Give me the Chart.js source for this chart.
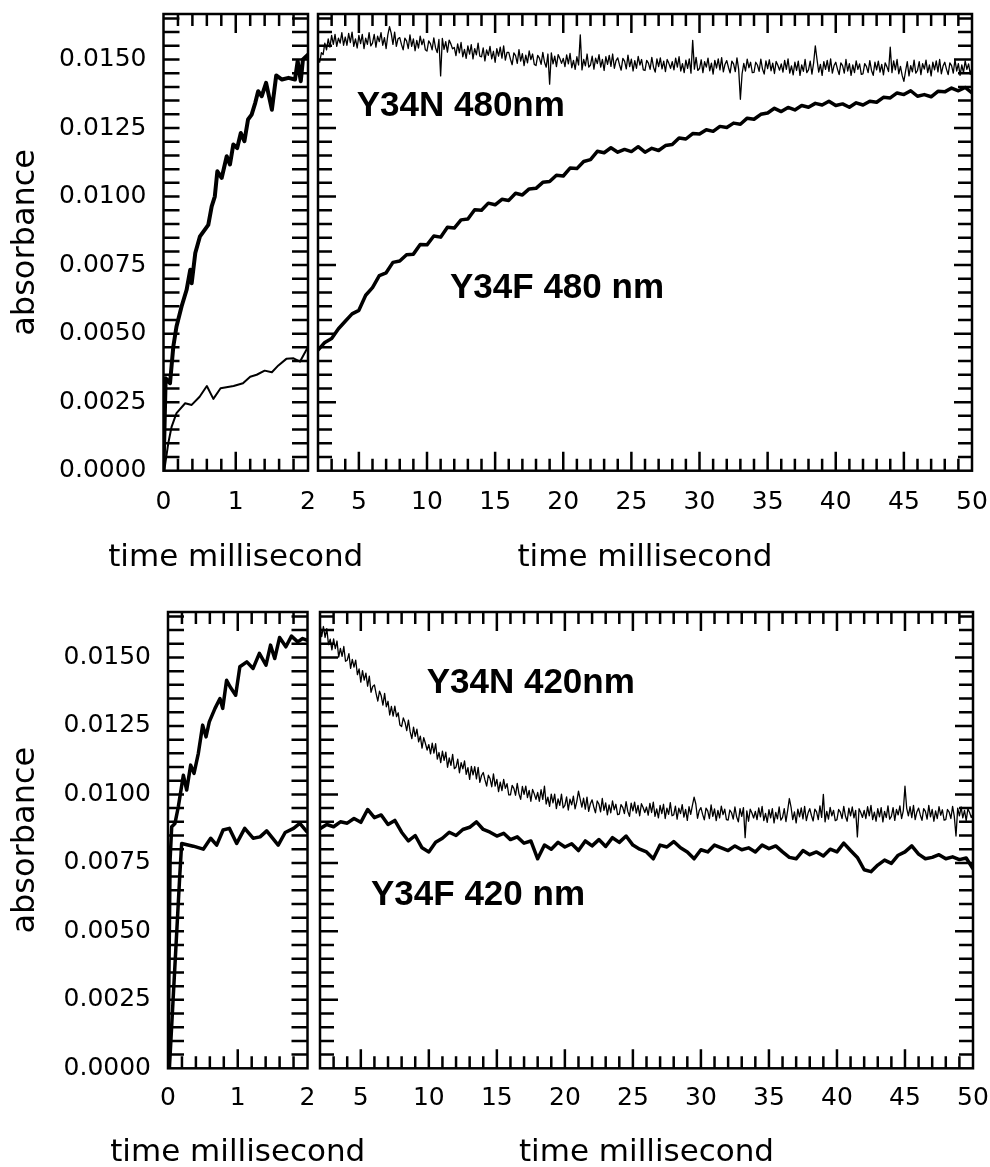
<!DOCTYPE html>
<html lang="en">
<head>
<meta charset="utf-8">
<title>absorbance Y34N / Y34F</title>
<script src="https://cdn.jsdelivr.net/npm/chart.js@4.4.1/dist/chart.umd.min.js"></script>
<style>
  html, body { margin: 0; background: #fff; }
  body { position: relative; width: 990px; height: 1167px; overflow: hidden; }
  canvas { position: absolute; }
</style>
</head>
<body>
<canvas id="c-tl" width="380" height="580" style="left:0;top:0"></canvas>
<canvas id="c-tr" width="710" height="580" style="left:300px;top:0"></canvas>
<canvas id="c-bl" width="380" height="587" style="left:0;top:580px"></canvas>
<canvas id="c-br" width="710" height="587" style="left:300px;top:580px"></canvas>
<script>
// Absorbance vs temps : rangée haute 480 nm, rangée basse 420 nm ; à gauche 0–2 ms, à droite 2–50 ms.

// --- axes ---
const yMax = 0.01666;
const yLabelTicks = [0, 0.0025, 0.005, 0.0075, 0.01, 0.0125, 0.015];
const xLabelsShort = [0, 1, 2];
const xLabelsLong = [5, 10, 15, 20, 25, 30, 35, 40, 45, 50];

// --- 0–2 ms, 480 nm ---
const tl480NT = [0, 0.03, 0.09, 0.136, 0.18, 0.25, 0.32, 0.37, 0.39, 0.44, 0.505, 0.62, 0.667, 0.71, 0.745, 0.805, 0.875, 0.92, 0.966, 1.02, 1.07, 1.12, 1.17, 1.22, 1.27, 1.31, 1.36, 1.42, 1.5, 1.56, 1.64, 1.73, 1.82, 1.857, 1.9, 1.93, 2.0];
const tl480NV = [0, 0.00337, 0.00319, 0.00453, 0.00526, 0.00599, 0.0066, 0.00733, 0.00684, 0.00794, 0.00855, 0.00897, 0.00964, 0.01, 0.01092, 0.01068, 0.01147, 0.01117, 0.0119, 0.01177, 0.01232, 0.01202, 0.01281, 0.01299, 0.01342, 0.01384, 0.01366, 0.01415, 0.01317, 0.01442, 0.01427, 0.01433, 0.01427, 0.01494, 0.01421, 0.015, 0.01518];
const tl480FT = [0.01, 0.066, 0.113, 0.18, 0.30, 0.39, 0.50, 0.60, 0.69, 0.79, 0.97, 1.10, 1.20, 1.29, 1.40, 1.50, 1.59, 1.70, 1.80, 1.89, 1.99];
const tl480FV = [0, 0.001, 0.00161, 0.0021, 0.00246, 0.0024, 0.0027, 0.00309, 0.00262, 0.00301, 0.00309, 0.00319, 0.00343, 0.0035, 0.00365, 0.00359, 0.00384, 0.00408, 0.0041, 0.00398, 0.00447];

// --- 0–2 ms, 420 nm ---
const bl420NT = [0, 0.03, 0.053, 0.10, 0.148, 0.22, 0.268, 0.325, 0.373, 0.435, 0.497, 0.545, 0.592, 0.674, 0.745, 0.784, 0.84, 0.89, 0.97, 1.03, 1.13, 1.22, 1.31, 1.405, 1.47, 1.53, 1.60, 1.69, 1.77, 1.86, 1.93, 1.99];
const bl420NV = [0, 0.0076, 0.00882, 0.00894, 0.00955, 0.0107, 0.01016, 0.01107, 0.01077, 0.0115, 0.01253, 0.0121, 0.01265, 0.01314, 0.0135, 0.01314, 0.01417, 0.01393, 0.01362, 0.01466, 0.01484, 0.0146, 0.01515, 0.01472, 0.01545, 0.01496, 0.01573, 0.01539, 0.01578, 0.01557, 0.01569, 0.01563];
const bl420FT = [0.02, 0.17, 0.196, 0.363, 0.506, 0.612, 0.698, 0.79, 0.88, 0.985, 1.10, 1.22, 1.32, 1.415, 1.58, 1.68, 1.80, 1.89, 1.99];
const bl420FV = [0, 0.0071, 0.00821, 0.00811, 0.008, 0.0084, 0.00815, 0.0087, 0.00876, 0.00821, 0.00876, 0.0084, 0.00845, 0.00867, 0.00815, 0.00861, 0.00876, 0.00894, 0.00864];

// --- 2–50 ms : grilles de temps ---
const tCoarse = [2, 2.5, 3, 3.5, 4, 4.5, 5, 5.5, 6, 6.5, 7, 7.5,
  8, 8.5, 9, 9.5, 10, 10.5, 11, 11.5, 12, 12.5, 13, 13.5,
  14, 14.5, 15, 15.5, 16, 16.5, 17, 17.5, 18, 18.5, 19, 19.5,
  20, 20.5, 21, 21.5, 22, 22.5, 23, 23.5, 24, 24.5, 25, 25.5,
  26, 26.5, 27, 27.5, 28, 28.5, 29, 29.5, 30, 30.5, 31, 31.5,
  32, 32.5, 33, 33.5, 34, 34.5, 35, 35.5, 36, 36.5, 37, 37.5,
  38, 38.5, 39, 39.5, 40, 40.5, 41, 41.5, 42, 42.5, 43, 43.5,
  44, 44.5, 45, 45.5, 46, 46.5, 47, 47.5, 48, 48.5, 49, 49.5,
  50];
const tFine = [2, 2.125, 2.25, 2.375, 2.5, 2.625, 2.75, 2.875, 3, 3.125, 3.25, 3.375, 3.5, 3.625, 3.75, 3.875,
  4, 4.125, 4.25, 4.375, 4.5, 4.625, 4.75, 4.875, 5, 5.125, 5.25, 5.375, 5.5, 5.625, 5.75, 5.875,
  6, 6.125, 6.25, 6.375, 6.5, 6.625, 6.75, 6.875, 7, 7.125, 7.25, 7.375, 7.5, 7.625, 7.75, 7.875,
  8, 8.125, 8.25, 8.375, 8.5, 8.625, 8.75, 8.875, 9, 9.125, 9.25, 9.375, 9.5, 9.625, 9.75, 9.875,
  10, 10.125, 10.25, 10.375, 10.5, 10.625, 10.75, 10.875, 11, 11.125, 11.25, 11.375, 11.5, 11.625, 11.75, 11.875,
  12, 12.125, 12.25, 12.375, 12.5, 12.625, 12.75, 12.875, 13, 13.125, 13.25, 13.375, 13.5, 13.625, 13.75, 13.875,
  14, 14.125, 14.25, 14.375, 14.5, 14.625, 14.75, 14.875, 15, 15.125, 15.25, 15.375, 15.5, 15.625, 15.75, 15.875,
  16, 16.125, 16.25, 16.375, 16.5, 16.625, 16.75, 16.875, 17, 17.125, 17.25, 17.375, 17.5, 17.625, 17.75, 17.875,
  18, 18.125, 18.25, 18.375, 18.5, 18.625, 18.75, 18.875, 19, 19.125, 19.25, 19.375, 19.5, 19.625, 19.75, 19.875,
  20, 20.125, 20.25, 20.375, 20.5, 20.625, 20.75, 20.875, 21, 21.125, 21.25, 21.375, 21.5, 21.625, 21.75, 21.875,
  22, 22.125, 22.25, 22.375, 22.5, 22.625, 22.75, 22.875, 23, 23.125, 23.25, 23.375, 23.5, 23.625, 23.75, 23.875,
  24, 24.125, 24.25, 24.375, 24.5, 24.625, 24.75, 24.875, 25, 25.125, 25.25, 25.375, 25.5, 25.625, 25.75, 25.875,
  26, 26.125, 26.25, 26.375, 26.5, 26.625, 26.75, 26.875, 27, 27.125, 27.25, 27.375, 27.5, 27.625, 27.75, 27.875,
  28, 28.125, 28.25, 28.375, 28.5, 28.625, 28.75, 28.875, 29, 29.125, 29.25, 29.375, 29.5, 29.625, 29.75, 29.875,
  30, 30.125, 30.25, 30.375, 30.5, 30.625, 30.75, 30.875, 31, 31.125, 31.25, 31.375, 31.5, 31.625, 31.75, 31.875,
  32, 32.125, 32.25, 32.375, 32.5, 32.625, 32.75, 32.875, 33, 33.125, 33.25, 33.375, 33.5, 33.625, 33.75, 33.875,
  34, 34.125, 34.25, 34.375, 34.5, 34.625, 34.75, 34.875, 35, 35.125, 35.25, 35.375, 35.5, 35.625, 35.75, 35.875,
  36, 36.125, 36.25, 36.375, 36.5, 36.625, 36.75, 36.875, 37, 37.125, 37.25, 37.375, 37.5, 37.625, 37.75, 37.875,
  38, 38.125, 38.25, 38.375, 38.5, 38.625, 38.75, 38.875, 39, 39.125, 39.25, 39.375, 39.5, 39.625, 39.75, 39.875,
  40, 40.125, 40.25, 40.375, 40.5, 40.625, 40.75, 40.875, 41, 41.125, 41.25, 41.375, 41.5, 41.625, 41.75, 41.875,
  42, 42.125, 42.25, 42.375, 42.5, 42.625, 42.75, 42.875, 43, 43.125, 43.25, 43.375, 43.5, 43.625, 43.75, 43.875,
  44, 44.125, 44.25, 44.375, 44.5, 44.625, 44.75, 44.875, 45, 45.125, 45.25, 45.375, 45.5, 45.625, 45.75, 45.875,
  46, 46.125, 46.25, 46.375, 46.5, 46.625, 46.75, 46.875, 47, 47.125, 47.25, 47.375, 47.5, 47.625, 47.75, 47.875,
  48, 48.125, 48.25, 48.375, 48.5, 48.625, 48.75, 48.875, 49, 49.125, 49.25, 49.375, 49.5, 49.625, 49.75, 49.875,
  50];

// --- 2–50 ms, 480 nm ---
const tr480N = [0.01500, 0.01490, 0.01525, 0.01518, 0.01560, 0.01535, 0.01575, 0.01545, 0.01588, 0.01555, 0.01592, 0.01548, 0.01578, 0.01560, 0.01598, 0.01552,
  0.01582, 0.01552, 0.01595, 0.01562, 0.01600, 0.01548, 0.01575, 0.01542, 0.01588, 0.01558, 0.01592, 0.01540, 0.01578, 0.01555, 0.01598, 0.01550,
  0.01560, 0.01592, 0.01545, 0.01585, 0.01565, 0.01598, 0.01552, 0.01580, 0.01540, 0.01590, 0.01620, 0.01595, 0.01555, 0.01600, 0.01548, 0.01576,
  0.01580, 0.01555, 0.01535, 0.01578, 0.01568, 0.01540, 0.01590, 0.01548, 0.01575, 0.01532, 0.01570, 0.01542, 0.01585, 0.01554, 0.01574, 0.01536,
  0.01531, 0.01568, 0.01558, 0.01535, 0.01579, 0.01543, 0.01525, 0.01573, 0.01440, 0.01577, 0.01537, 0.01565, 0.01527, 0.01571, 0.01557, 0.01539,
  0.01544, 0.01514, 0.01557, 0.01524, 0.01562, 0.01510, 0.01537, 0.01504, 0.01550, 0.01520, 0.01554, 0.01502, 0.01540, 0.01517, 0.01560, 0.01512,
  0.01510, 0.01542, 0.01495, 0.01535, 0.01515, 0.01548, 0.01502, 0.01530, 0.01490, 0.01540, 0.01512, 0.01545, 0.01505, 0.01550, 0.01498, 0.01526,
  0.01526, 0.01501, 0.01481, 0.01524, 0.01514, 0.01486, 0.01536, 0.01494, 0.01521, 0.01478, 0.01516, 0.01488, 0.01531, 0.01500, 0.01520, 0.01482,
  0.01478, 0.01515, 0.01505, 0.01482, 0.01526, 0.01490, 0.01472, 0.01520, 0.01410, 0.01524, 0.01484, 0.01512, 0.01474, 0.01518, 0.01504, 0.01486,
  0.01504, 0.01474, 0.01517, 0.01484, 0.01522, 0.01470, 0.01497, 0.01464, 0.01510, 0.01480, 0.01590, 0.01462, 0.01500, 0.01477, 0.01520, 0.01472,
  0.01480, 0.01512, 0.01465, 0.01505, 0.01485, 0.01518, 0.01472, 0.01500, 0.01460, 0.01510, 0.01482, 0.01515, 0.01475, 0.01520, 0.01468, 0.01496,
  0.01506, 0.01481, 0.01461, 0.01504, 0.01494, 0.01466, 0.01516, 0.01474, 0.01501, 0.01458, 0.01496, 0.01468, 0.01511, 0.01480, 0.01500, 0.01462,
  0.01460, 0.01497, 0.01487, 0.01464, 0.01508, 0.01472, 0.01454, 0.01502, 0.01474, 0.01506, 0.01466, 0.01494, 0.01456, 0.01500, 0.01486, 0.01468,
  0.01492, 0.01462, 0.01505, 0.01472, 0.01510, 0.01458, 0.01485, 0.01452, 0.01498, 0.01468, 0.01502, 0.01450, 0.01570, 0.01465, 0.01508, 0.01460,
  0.01467, 0.01499, 0.01452, 0.01492, 0.01472, 0.01505, 0.01459, 0.01487, 0.01447, 0.01497, 0.01469, 0.01502, 0.01462, 0.01507, 0.01455, 0.01483,
  0.01496, 0.01471, 0.01451, 0.01494, 0.01484, 0.01456, 0.01506, 0.01464, 0.01355, 0.01448, 0.01486, 0.01458, 0.01501, 0.01470, 0.01490, 0.01452,
  0.01453, 0.01490, 0.01480, 0.01457, 0.01501, 0.01465, 0.01447, 0.01495, 0.01467, 0.01499, 0.01459, 0.01487, 0.01449, 0.01493, 0.01479, 0.01461,
  0.01484, 0.01454, 0.01497, 0.01464, 0.01502, 0.01450, 0.01477, 0.01444, 0.01490, 0.01460, 0.01494, 0.01442, 0.01480, 0.01457, 0.01500, 0.01452,
  0.01462, 0.01494, 0.01447, 0.01487, 0.01550, 0.01500, 0.01454, 0.01482, 0.01442, 0.01492, 0.01464, 0.01497, 0.01457, 0.01502, 0.01450, 0.01478,
  0.01490, 0.01465, 0.01445, 0.01488, 0.01478, 0.01450, 0.01500, 0.01458, 0.01485, 0.01442, 0.01480, 0.01452, 0.01495, 0.01464, 0.01484, 0.01446,
  0.01448, 0.01485, 0.01475, 0.01452, 0.01496, 0.01460, 0.01442, 0.01490, 0.01462, 0.01494, 0.01454, 0.01482, 0.01444, 0.01488, 0.01474, 0.01456,
  0.01545, 0.01452, 0.01495, 0.01462, 0.01500, 0.01448, 0.01475, 0.01442, 0.01420, 0.01458, 0.01492, 0.01440, 0.01478, 0.01455, 0.01498, 0.01450,
  0.01460, 0.01492, 0.01445, 0.01485, 0.01465, 0.01498, 0.01452, 0.01480, 0.01440, 0.01490, 0.01462, 0.01495, 0.01455, 0.01500, 0.01448, 0.01476,
  0.01490, 0.01465, 0.01445, 0.01488, 0.01478, 0.01450, 0.01500, 0.01458, 0.01485, 0.01442, 0.01480, 0.01452, 0.01495, 0.01464, 0.01484, 0.01446,
  0.01472];
const tr480F = [0.00440, 0.00468, 0.00482, 0.00518, 0.00545, 0.00572, 0.00585, 0.00640, 0.00668, 0.00712, 0.00722, 0.00760,
  0.00765, 0.00788, 0.00790, 0.00825, 0.00824, 0.00856, 0.00852, 0.00888, 0.00885, 0.00915, 0.00918, 0.00952,
  0.00950, 0.00976, 0.00970, 0.00990, 0.00986, 0.01012, 0.01006, 0.01028, 0.01030, 0.01052, 0.01055, 0.01078,
  0.01075, 0.01104, 0.01102, 0.01128, 0.01135, 0.01165, 0.01160, 0.01178, 0.01162, 0.01172, 0.01164, 0.01182,
  0.01162, 0.01176, 0.01168, 0.01186, 0.01190, 0.01214, 0.01210, 0.01230, 0.01228, 0.01244, 0.01238, 0.01256,
  0.01252, 0.01268, 0.01264, 0.01286, 0.01282, 0.01300, 0.01305, 0.01322, 0.01310, 0.01325, 0.01316, 0.01332,
  0.01326, 0.01340, 0.01334, 0.01348, 0.01332, 0.01338, 0.01326, 0.01342, 0.01334, 0.01348, 0.01344, 0.01362,
  0.01360, 0.01378, 0.01372, 0.01386, 0.01366, 0.01372, 0.01364, 0.01384, 0.01382, 0.01396, 0.01386, 0.01398,
  0.01378];

// --- 2–50 ms, 420 nm ---
const br420N = [0.01625, 0.01576, 0.01613, 0.01573, 0.01605, 0.01547, 0.01567, 0.01528, 0.01568, 0.01532, 0.01560, 0.01501, 0.01533, 0.01504, 0.01540, 0.01486,
  0.01490, 0.01514, 0.01460, 0.01493, 0.01465, 0.01490, 0.01437, 0.01458, 0.01410, 0.01452, 0.01417, 0.01443, 0.01395, 0.01432, 0.01373, 0.01394,
  0.01400, 0.01368, 0.01341, 0.01377, 0.01360, 0.01326, 0.01369, 0.01320, 0.01340, 0.01290, 0.01321, 0.01286, 0.01322, 0.01284, 0.01298, 0.01253,
  0.01248, 0.01279, 0.01263, 0.01233, 0.01271, 0.01229, 0.01204, 0.01246, 0.01212, 0.01238, 0.01192, 0.01213, 0.01169, 0.01207, 0.01186, 0.01162,
  0.01182, 0.01148, 0.01187, 0.01151, 0.01185, 0.01129, 0.01153, 0.01116, 0.01158, 0.01124, 0.01154, 0.01099, 0.01133, 0.01106, 0.01146, 0.01094,
  0.01100, 0.01129, 0.01079, 0.01116, 0.01093, 0.01122, 0.01073, 0.01098, 0.01055, 0.01102, 0.01071, 0.01101, 0.01057, 0.01099, 0.01044, 0.01069,
  0.01080, 0.01053, 0.01030, 0.01070, 0.01058, 0.01028, 0.01075, 0.01030, 0.01055, 0.01010, 0.01045, 0.01014, 0.01055, 0.01022, 0.01039, 0.00998,
  0.00998, 0.01033, 0.01022, 0.00997, 0.01040, 0.01002, 0.00982, 0.01029, 0.01000, 0.01030, 0.00988, 0.01015, 0.00975, 0.01018, 0.01002, 0.00982,
  0.01007, 0.00975, 0.01017, 0.00982, 0.01030, 0.00965, 0.00990, 0.00956, 0.01001, 0.00969, 0.01001, 0.00948, 0.00984, 0.00960, 0.01001, 0.00951,
  0.00960, 0.00991, 0.00943, 0.00983, 0.00962, 0.00994, 0.00947, 0.00974, 0.01012, 0.00983, 0.00954, 0.00986, 0.00946, 0.00990, 0.00938, 0.00966,
  0.00980, 0.00954, 0.00933, 0.00976, 0.00965, 0.00936, 0.00985, 0.00942, 0.00969, 0.00925, 0.00962, 0.00933, 0.00976, 0.00944, 0.00964, 0.00926,
  0.00928, 0.00963, 0.00953, 0.00930, 0.00974, 0.00938, 0.00920, 0.00968, 0.00940, 0.00972, 0.00932, 0.00960, 0.00922, 0.00966, 0.00952, 0.00934,
  0.00954, 0.00924, 0.00967, 0.00934, 0.00972, 0.00920, 0.00947, 0.00914, 0.00960, 0.00930, 0.00964, 0.00912, 0.00950, 0.00927, 0.00970, 0.00922,
  0.00925, 0.00957, 0.00910, 0.00950, 0.00930, 0.00963, 0.00917, 0.00945, 0.00905, 0.00955, 0.00927, 0.00960, 0.00990, 0.00965, 0.00913, 0.00941,
  0.00952, 0.00927, 0.00907, 0.00950, 0.00940, 0.00912, 0.00962, 0.00920, 0.00947, 0.00904, 0.00942, 0.00914, 0.00957, 0.00926, 0.00946, 0.00908,
  0.00906, 0.00943, 0.00933, 0.00910, 0.00954, 0.00918, 0.00900, 0.00948, 0.00920, 0.00952, 0.00842, 0.00940, 0.00902, 0.00946, 0.00932, 0.00914,
  0.00938, 0.00908, 0.00951, 0.00918, 0.00956, 0.00904, 0.00931, 0.00898, 0.00944, 0.00914, 0.00948, 0.00896, 0.00934, 0.00911, 0.00954, 0.00906,
  0.00916, 0.00948, 0.00901, 0.00941, 0.00985, 0.00954, 0.00908, 0.00936, 0.00896, 0.00946, 0.00918, 0.00951, 0.00911, 0.00956, 0.00904, 0.00932,
  0.00948, 0.00923, 0.00903, 0.00946, 0.00936, 0.00908, 0.00958, 0.00916, 0.01000, 0.00900, 0.00938, 0.00910, 0.00953, 0.00922, 0.00942, 0.00904,
  0.00908, 0.00945, 0.00935, 0.00912, 0.00956, 0.00920, 0.00902, 0.00950, 0.00922, 0.00954, 0.00914, 0.00942, 0.00845, 0.00948, 0.00934, 0.00916,
  0.00942, 0.00912, 0.00955, 0.00922, 0.00960, 0.00908, 0.00935, 0.00902, 0.00948, 0.00918, 0.00952, 0.00900, 0.00938, 0.00915, 0.00958, 0.00910,
  0.00920, 0.00952, 0.00905, 0.00945, 0.00925, 0.00958, 0.00912, 0.00940, 0.01030, 0.00950, 0.00922, 0.00955, 0.00915, 0.00960, 0.00908, 0.00936,
  0.00950, 0.00925, 0.00905, 0.00948, 0.00938, 0.00910, 0.00960, 0.00918, 0.00945, 0.00902, 0.00940, 0.00912, 0.00955, 0.00924, 0.00944, 0.00906,
  0.00908, 0.00945, 0.00935, 0.00912, 0.00956, 0.00920, 0.00848, 0.00950, 0.00922, 0.00954, 0.00914, 0.00942, 0.00904, 0.00948, 0.00934, 0.00916,
  0.00930];
const br420F = [0.00875, 0.00890, 0.00882, 0.00900, 0.00895, 0.00912, 0.00898, 0.00945, 0.00915, 0.00925, 0.00890, 0.00905,
  0.00862, 0.00830, 0.00850, 0.00805, 0.00790, 0.00825, 0.00840, 0.00862, 0.00850, 0.00872, 0.00880, 0.00900,
  0.00872, 0.00862, 0.00848, 0.00858, 0.00835, 0.00845, 0.00822, 0.00830, 0.00765, 0.00815, 0.00800, 0.00825,
  0.00808, 0.00820, 0.00795, 0.00830, 0.00812, 0.00835, 0.00810, 0.00842, 0.00825, 0.00848, 0.00815, 0.00800,
  0.00790, 0.00765, 0.00815, 0.00808, 0.00828, 0.00805, 0.00790, 0.00765, 0.00798, 0.00790, 0.00815, 0.00805,
  0.00795, 0.00812, 0.00798, 0.00805, 0.00790, 0.00815, 0.00802, 0.00812, 0.00790, 0.00770, 0.00765, 0.00795,
  0.00780, 0.00790, 0.00775, 0.00800, 0.00790, 0.00822, 0.00795, 0.00770, 0.00725, 0.00718, 0.00742, 0.00760,
  0.00748, 0.00778, 0.00790, 0.00812, 0.00782, 0.00765, 0.00770, 0.00780, 0.00765, 0.00772, 0.00762, 0.00768,
  0.00728];

const FONT = '"DejaVu Sans", sans-serif';
const pts = (ts, vs) => ts.map((t, i) => ({ x: t, y: vs[i] }));
const line = (ts, vs, w) => ({ data: pts(ts, vs), borderColor: '#000', borderWidth: w });

// graduations mineures / majeures (positions d'axe, pas des marques de données)
function steps(from, to, step, every) {
  const minor = [], major = [];
  for (let k = 1; from + k * step < to - 1e-9; k++) (k % every ? minor : major).push(from + k * step);
  return { minor, major };
}
const ySteps = steps(0, yMax, 0.0005, 5);
const xShort = steps(0, 2, 0.2, 5);
const xLong = { minor: [], major: [] };
for (let v = 3; v < 50; v++) (v % 5 ? xLong.minor : xLong.major).push(v);

// cadre + graduations vers l'intérieur sur les quatre côtés
const frameTicks = (xs, ys, len) => ({
  id: 'frameTicks',
  beforeDatasetsDraw(chart) {
    const { ctx, chartArea: a, scales: { x, y } } = chart;
    ctx.save();
    ctx.strokeStyle = '#000';
    ctx.lineWidth = 2.5;
    ctx.beginPath();
    const xt = (v, l) => { const p = x.getPixelForValue(v); ctx.moveTo(p, a.bottom); ctx.lineTo(p, a.bottom - l); ctx.moveTo(p, a.top); ctx.lineTo(p, a.top + l); };
    const yt = (v, l) => { const p = y.getPixelForValue(v); ctx.moveTo(a.left, p); ctx.lineTo(a.left + l, p); ctx.moveTo(a.right, p); ctx.lineTo(a.right - l, p); };
    xs.minor.forEach((v) => xt(v, len.xMinor)); xs.major.forEach((v) => xt(v, len.xMajor));
    ys.minor.forEach((v) => yt(v, len.yMinor)); ys.major.forEach((v) => yt(v, len.yMajor));
    ctx.stroke();
    ctx.strokeRect(a.left, a.top, a.right - a.left, a.bottom - a.top);
    ctx.restore();
  },
});

// étiquettes de courbes + titre d'axe x (dessiné sans largeur max pour les panneaux étroits)
const texts = (items, titleOffset) => ({
  id: 'texts',
  afterDraw(chart) {
    const { ctx, chartArea: a, scales: { x, y } } = chart;
    ctx.save();
    ctx.fillStyle = '#000';
    ctx.textBaseline = 'alphabetic';
    ctx.textAlign = 'left';
    ctx.font = 'bold 35px "Liberation Sans", Arial, sans-serif';
    items.forEach((t) => ctx.fillText(t.text, x.getPixelForValue(t.x), y.getPixelForValue(t.y)));
    ctx.textAlign = 'center';
    ctx.font = `31px ${FONT}`;
    ctx.fillText('time millisecond', (a.left + a.right) / 2, a.bottom + titleOffset);
    ctx.restore();
  },
});

function panel(id, p) {
  return new Chart(document.getElementById(id), {
    type: 'line',
    data: { datasets: p.datasets },
    options: {
      responsive: false, animation: false, events: [],
      layout: { padding: p.pad },
      plugins: { legend: { display: false }, tooltip: { enabled: false } },
      elements: { point: { radius: 0 }, line: { tension: 0, borderJoinStyle: 'round', borderCapStyle: 'round' } },
      scales: {
        x: {
          type: 'linear', min: p.xMin, max: p.xMax,
          grid: { display: false, drawTicks: false }, border: { display: false },
          afterBuildTicks: (s) => { s.ticks = p.xLabels.map((v) => ({ value: v })); },
          afterFit: (s) => { s.height = p.xHeight; s.paddingLeft = 0; s.paddingRight = 0; },
          ticks: { autoSkip: false, maxRotation: 0, padding: p.xPad, color: '#000', font: { family: FONT, size: 25 }, callback: (v) => String(v) },
        },
        y: {
          type: 'linear', min: 0, max: yMax, display: !!p.yWidth,
          grid: { display: false, drawTicks: false }, border: { display: false },
          afterBuildTicks: (s) => { s.ticks = yLabelTicks.map((v) => ({ value: v })); },
          afterFit: (s) => { if (p.yWidth) s.width = p.yWidth; s.paddingTop = 0; s.paddingBottom = 0; },
          ticks: { padding: 17, color: '#000', font: { family: FONT, size: 25 }, callback: (v) => v.toFixed(4) },
          title: { display: true, text: 'absorbance', color: '#000', font: { family: FONT, size: 32, lineHeight: 1 }, padding: { top: 10, bottom: 0 } },
        },
      },
    },
    plugins: [frameTicks(p.xSteps, ySteps, p.len), texts(p.tags || [], p.titleOffset)],
  });
}

const lenShort = { xMinor: 12, xMajor: 19, yMinor: 16, yMajor: 16 };
const lenLong = { xMinor: 12, xMajor: 19, yMinor: 14, yMajor: 18 };

panel('c-tl', {
  xMin: 0, xMax: 2, xLabels: xLabelsShort, xSteps: xShort, len: lenShort,
  pad: { left: 0, right: 72, top: 14, bottom: 0 }, yWidth: 163.5, xHeight: 109.3, xPad: 16.5, titleOffset: 95,
  datasets: [line(tl480NT, tl480NV, 4), line(tl480FT, tl480FV, 2)],
});
panel('c-tr', {
  xMin: 2, xMax: 50, xLabels: xLabelsLong, xSteps: xLong, len: lenLong,
  pad: { left: 18, right: 38, top: 14, bottom: 0 }, xHeight: 109.3, xPad: 16.5, titleOffset: 95,
  datasets: [line(tFine, tr480N, 1.3), line(tCoarse, tr480F, 3.5)],
  tags: [{ text: 'Y34N 480nm', x: 4.84, y: 0.01293 }, { text: 'Y34F 480 nm', x: 11.69, y: 0.0063 }],
});
panel('c-bl', {
  xMin: 0, xMax: 2, xLabels: xLabelsShort, xSteps: xShort, len: lenShort,
  pad: { left: 0, right: 72.5, top: 32, bottom: 0 }, yWidth: 168, xHeight: 98.7, xPad: 15.5, titleOffset: 93,
  datasets: [line(bl420NT, bl420NV, 3.5), line(bl420FT, bl420FV, 3.5)],
});
panel('c-br', {
  xMin: 2, xMax: 50, xLabels: xLabelsLong, xSteps: xLong, len: lenLong,
  pad: { left: 20, right: 37, top: 32, bottom: 0 }, xHeight: 98.7, xPad: 15.5, titleOffset: 93,
  datasets: [line(tFine, br420N, 1.3), line(tCoarse, br420F, 3.5)],
  tags: [{ text: 'Y34N 420nm', x: 9.84, y: 0.01369 }, { text: 'Y34F 420 nm', x: 5.75, y: 0.00596 }],
});
</script>
</body>
</html>
